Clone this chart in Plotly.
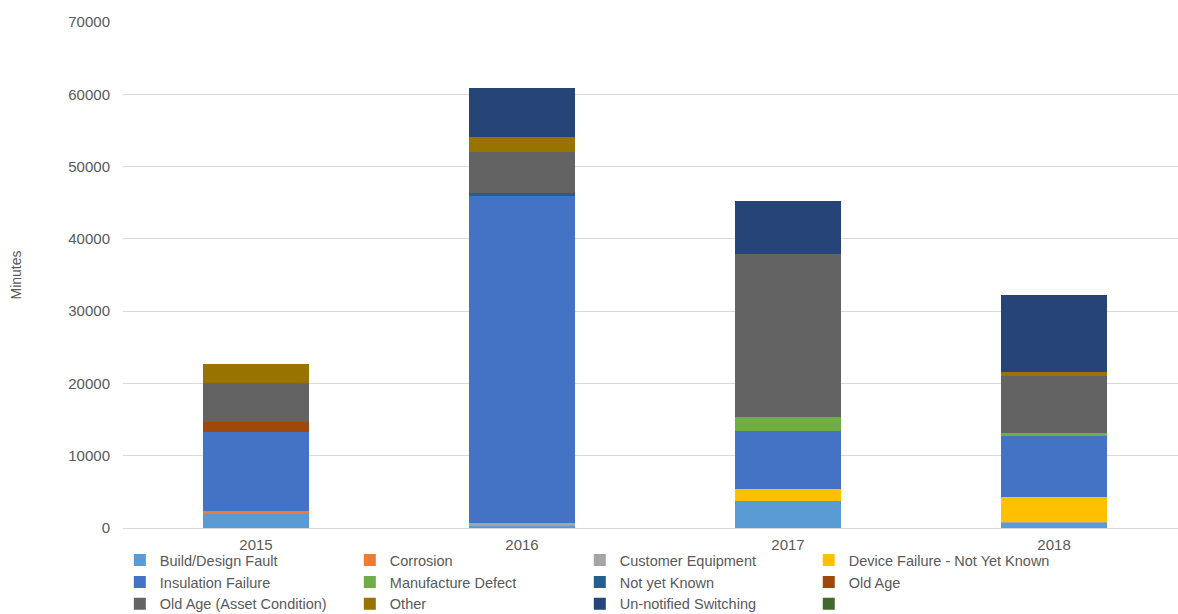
import plotly.graph_objects as go

# Categories (years) and minutes per cause, stacked bottom to top
years = ["2015", "2016", "2017", "2018"]

build_design_fault = [2000, 300, 3700, 750]
corrosion = [400, 0, 0, 0]
customer_equipment = [0, 350, 0, 80]
device_failure = [0, 0, 1750, 3400]
insulation_failure = [10900, 45300, 8000, 8450]
manufacture_defect = [0, 0, 1950, 420]
not_yet_known = [0, 400, 0, 0]
old_age = [1350, 0, 0, 0]
old_age_asset = [5450, 5700, 22550, 7900]
other = [2650, 2000, 0, 520]
unnotified_switching = [0, 6800, 7300, 10750]
unnamed = [0, 0, 0, 0]

y_ticks = [0, 10000, 20000, 30000, 40000, 50000, 60000, 70000]

series = [
    ("Build/Design Fault", build_design_fault, "#5B9BD5", "legend"),
    ("Insulation Failure", insulation_failure, "#4472C4", "legend"),
    ("Old Age (Asset Condition)", old_age_asset, "#636363", "legend"),
    ("Corrosion", corrosion, "#ED7D31", "legend2"),
    ("Manufacture Defect", manufacture_defect, "#70AD47", "legend2"),
    ("Other", other, "#997300", "legend2"),
    ("Customer Equipment", customer_equipment, "#A5A5A5", "legend3"),
    ("Not yet Known", not_yet_known, "#255E91", "legend3"),
    ("Un-notified Switching", unnotified_switching, "#264478", "legend3"),
    ("Device Failure - Not Yet Known", device_failure, "#FFC000", "legend4"),
    ("Old Age", old_age, "#9E480E", "legend4"),
    (" ", unnamed, "#43682B", "legend4"),
]

# stacking order from the bottom of each bar
stack_order = [
    "Build/Design Fault", "Corrosion", "Customer Equipment",
    "Device Failure - Not Yet Known", "Insulation Failure", "Manufacture Defect",
    "Not yet Known", "Old Age", "Old Age (Asset Condition)", "Other",
    "Un-notified Switching", " ",
]
by_name = {s[0]: s for s in series}

fig = go.Figure()
for name in stack_order:
    _, vals, color, leg = by_name[name]
    fig.add_trace(go.Bar(
        x=years, y=vals, name=name, legend=leg,
        marker=dict(color=color, line=dict(width=0)),
    ))

text_color = "#595959"
font_family = "Liberation Sans, Arial, sans-serif"

legend_common = dict(
    orientation="v", traceorder="normal", yanchor="top", xanchor="left",
    y=-0.032, bgcolor="rgba(0,0,0,0)",
    font=dict(family=font_family, size=14.5, color=text_color),
)

fig.update_layout(
    width=1178, height=614,
    margin=dict(l=123, r=0, t=22, b=86, autoexpand=False),
    paper_bgcolor="white", plot_bgcolor="white",
    barmode="stack", bargap=0.6,
    font=dict(family=font_family, size=15, color=text_color),
    xaxis=dict(
        type="category", range=[-0.5, 3.466],
        showgrid=False, showline=False, zeroline=False,
        ticks="outside", ticklen=3, tickcolor="rgba(0,0,0,0)",
        tickfont=dict(size=15, color=text_color),
    ),
    yaxis=dict(
        range=[0, 70000], tickvals=y_ticks, tickformat="d",
        showgrid=True, gridcolor="#D9D9D9", gridwidth=1,
        zeroline=True, zerolinecolor="#D9D9D9", zerolinewidth=1,
        showline=False,
        ticks="outside", ticklen=9, tickcolor="rgba(0,0,0,0)",
        tickfont=dict(size=15, color=text_color),
        title=dict(text="Minutes", standoff=43,
                   font=dict(size=14, color=text_color)),
    ),
    legend=dict(x=-0.003, **legend_common),
    legend2=dict(x=0.215, **legend_common),
    legend3=dict(x=0.433, **legend_common),
    legend4=dict(x=0.65, **legend_common),
)

fig.write_html("out.html")
